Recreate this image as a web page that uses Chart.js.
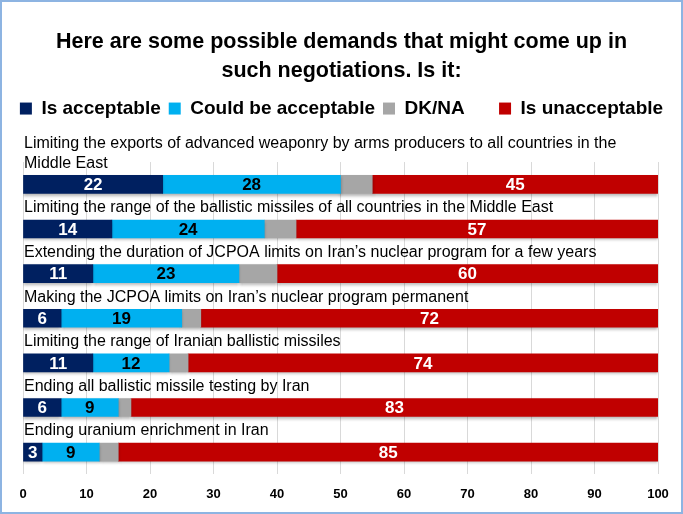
<!DOCTYPE html>
<html lang="en">
<head>
    <meta charset="UTF-8">
    <title>Possible demands</title>
    <style>
        html, body { margin: 0; padding: 0; background: #fff; }
        .frame {
            width: 683px;
            height: 514px;
            box-sizing: border-box;
            border: 2px solid #8DB4E2;
            position: relative;
        }
    </style>
</head>
<body>
    <div class="frame">
        <canvas id="chart"></canvas>
    </div>

    <script src="https://cdn.jsdelivr.net/npm/chart.js"></script>
    <script>
        const FONT = '"Liberation Sans", Arial, sans-serif';

        const categories = [
            ['Limiting the exports of advanced weaponry by arms producers to all countries in the', 'Middle East'],
            ['Limiting the range of the ballistic missiles of all countries in the Middle East'],
            ['Extending the duration of JCPOA limits on Iran\u2019s nuclear program for a few years'],
            ['Making the JCPOA limits on Iran\u2019s nuclear program permanent'],
            ['Limiting the range of Iranian ballistic missiles'],
            ['Ending all ballistic missile testing by Iran'],
            ['Ending uranium enrichment in Iran']
        ];
        const acceptable = [22, 14, 11, 6, 11, 6, 3];
        const couldBe = [28, 24, 23, 19, 12, 9, 9];
        const dkna = [5, 5, 6, 3, 3, 2, 3];
        const unacceptable = [45, 57, 60, 72, 74, 83, 85];
        const xTicks = [0, 10, 20, 30, 40, 50, 60, 70, 80, 90, 100];

        // extra room under the legend
        const legendGap = {
            id: 'legendGap',
            beforeInit(chart) {
                const fit = chart.legend.fit;
                chart.legend.fit = function () {
                    fit.bind(chart.legend)();
                    this.height += 34;
                };
            }
        };

        // soft shadow under the bars
        const barShadow = {
            id: 'barShadow',
            beforeDatasetsDraw(chart) {
                const ctx = chart.ctx;
                ctx.save();
                ctx.shadowColor = 'rgba(0,0,0,0.3)';
                ctx.shadowBlur = 3;
                ctx.shadowOffsetY = 2;
            },
            afterDatasetsDraw(chart) {
                chart.ctx.restore();
            }
        };

        // question text above each bar + numbers in the segments
        const barText = {
            id: 'barText',
            afterDatasetsDraw(chart) {
                const ctx = chart.ctx;
                const yScale = chart.scales.y;
                const left = chart.chartArea.left;
                ctx.save();
                ctx.font = '16px ' + FONT;
                ctx.fillStyle = '#000';
                ctx.textAlign = 'left';
                ctx.textBaseline = 'middle';
                categories.forEach((lines, i) => {
                    const y = yScale.getPixelForValue(i) - 21;
                    lines.slice().reverse().forEach((line, k) => {
                        ctx.fillText(line, left + 1, y - k * 20);
                    });
                });

                ctx.font = 'bold 17px ' + FONT;
                ctx.textAlign = 'center';
                chart.data.datasets.forEach((ds, d) => {
                    if (!ds.showValue) return;
                    const meta = chart.getDatasetMeta(d);
                    meta.data.forEach((bar, i) => {
                        const cx = (bar.x + bar.base) / 2;
                        ctx.fillStyle = ds.valueColor;
                        ctx.fillText(String(ds.data[i]), cx, bar.y + 1);
                    });
                });
                ctx.restore();
            }
        };

        const hiddenSide = width => ({
            display: true,
            grid: { display: false },
            border: { display: false },
            ticks: { display: false },
            afterFit(scale) { scale.width = width; }
        });

        const ctx = document.getElementById('chart').getContext('2d');
        new Chart(ctx, {
            type: 'bar',
            data: {
                labels: categories.map(c => c.join(' ')),
                datasets: [
                    { label: 'Is acceptable', data: acceptable, backgroundColor: '#002060', showValue: true, valueColor: '#fff' },
                    { label: 'Could be acceptable', data: couldBe, backgroundColor: '#00B0F0', showValue: true, valueColor: '#000' },
                    { label: 'DK/NA     ', data: dkna, backgroundColor: '#A6A6A6', showValue: false },
                    { label: 'Is unacceptable', data: unacceptable, backgroundColor: '#C00000', showValue: true, valueColor: '#fff' }
                ]
            },
            options: {
                indexAxis: 'y',
                responsive: true,
                maintainAspectRatio: false,
                animation: false,
                barThickness: 18,
                layout: { padding: { left: 2, right: 2, top: 0, bottom: -2 } },
                plugins: {
                    title: {
                        display: true,
                        text: ['Here are some possible demands that might come up in', 'such negotiations. Is it:'],
                        color: '#000',
                        font: { family: FONT, size: 21.5, weight: 'bold', lineHeight: 1.35 },
                        padding: { top: 26, bottom: 5 }
                    },
                    legend: {
                        position: 'top',
                        labels: {
                            color: '#000',
                            boxWidth: 12,
                            boxHeight: 12,
                            padding: 8,
                            font: { family: FONT, size: 19, weight: 'bold' }
                        }
                    },
                    tooltip: { enabled: false }
                },
                scales: {
                    x: {
                        stacked: true,
                        min: 0,
                        max: 100,
                        afterBuildTicks(scale) {
                            scale.ticks = xTicks.map(v => ({ value: v }));
                        },
                        grid: { color: '#D9D9D9', drawTicks: false },
                        border: { display: false },
                        ticks: {
                            color: '#000',
                            padding: 12,
                            font: { family: FONT, size: 13, weight: 'bold' }
                        }
                    },
                    y: Object.assign({ stacked: true, position: 'left' }, hiddenSide(19)),
                    y2: Object.assign({ type: 'category', position: 'right' }, hiddenSide(21))
                }
            },
            plugins: [legendGap, barShadow, barText]
        });
    </script>
</body>
</html>
